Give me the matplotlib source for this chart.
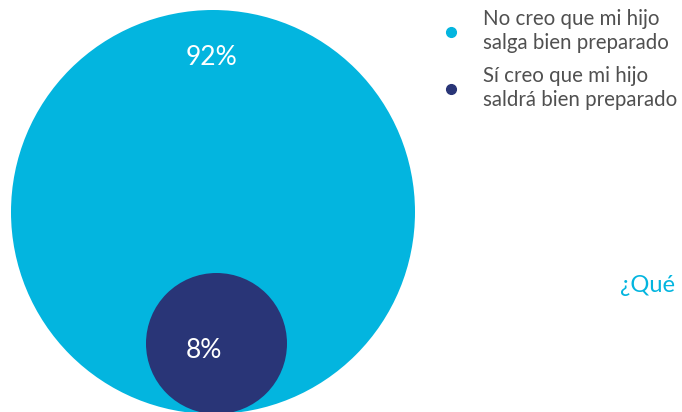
import matplotlib.pyplot as plt
from matplotlib.patches import Circle

# survey shares
labels = ["No creo que mi hijo\nsalga bien preparado",
          "Sí creo que mi hijo\nsaldrá bien preparado"]
shares = [92, 8]
colors = ["#03B5DF", "#293577"]

plt.rcParams['font.family'] = ['Lato', 'DejaVu Sans']

fig = plt.figure(figsize=(6.82, 4.12), dpi=100)
ax = fig.add_axes([0, 0, 1, 1])
ax.set_xlim(0, 682)
ax.set_ylim(412, 0)
ax.set_aspect('equal')
ax.axis('off')

# nested bubbles, both resting on the same bottom line
bottom = 414
radii = [202, 70.5]
centers_x = [213, 216.5]
label_pos = [(211.5, 57), (204, 351)]
for share, r, cx, (lx, ly), c in zip(shares, radii, centers_x, label_pos, colors):
    ax.add_patch(Circle((cx, bottom - r), r, color=c, lw=0))
    ax.text(lx, ly, f"{share}%", color="white", fontsize=19,
            ha="center", va="center")

# legend
for i, (lab, c) in enumerate(zip(labels, colors)):
    y0 = 32 + i * 57
    ax.plot(451, y0, 'o', color=c, ms=7)
    ax.text(483, y0 - 1, lab, color="#505050", fontsize=14.8,
            ha="left", va="center", linespacing=1.3)

ax.text(620, 285, "¿Qué", color="#03B5DF", fontsize=17,
        ha="left", va="center")

fig.savefig("out.png", dpi=100)
